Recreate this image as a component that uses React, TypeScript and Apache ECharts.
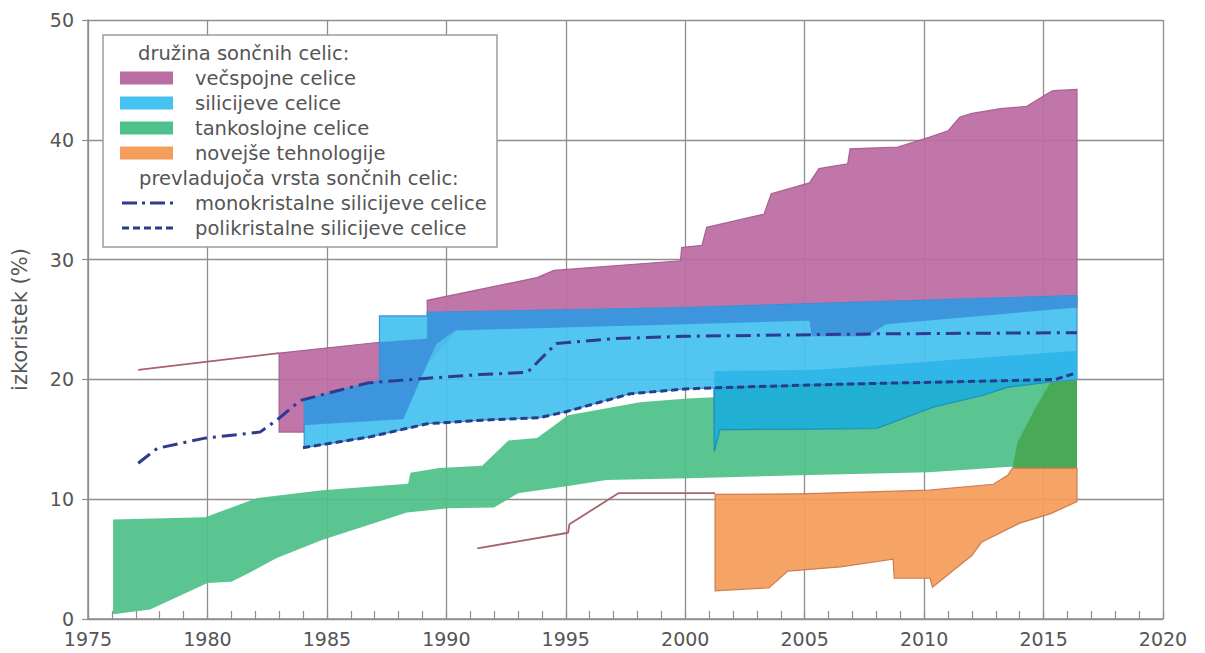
import React, { useEffect, useRef } from 'react';
import * as echarts from 'echarts';

// ---- axis ranges ----
const yearMin = 1975;
const yearMax = 2020;
const effMin = 0;
const effMax = 50;

// ---- cell family bands: [year, efficiency %] ----
const greenTop = [[1976.05, 8.3], [1979.9, 8.5], [1982.1, 10.1], [1984.8, 10.75], [1988.4, 11.3], [1988.5, 12.2], [1989.7, 12.6], [1991.5, 12.8], [1992.6, 14.9], [1993.8, 15.1], [1995.1, 17.0], [1998.1, 18.1], [2000.1, 18.4], [2001.2, 18.5], [2001.22, 19.3], [2006.5, 19.6], [2013.5, 19.9], [2016.4, 20.0]];
const greenBottom = [[1976.05, 0.4], [1977.6, 0.8], [1980.0, 3.0], [1981.0, 3.1], [1981.7, 3.8], [1982.9, 5.1], [1984.8, 6.6], [1988.35, 8.9], [1990.1, 9.25], [1992.0, 9.3], [1993.0, 10.5], [1995.1, 11.1], [1996.7, 11.6], [2000.1, 11.75], [2004.8, 12.0], [2010.2, 12.25], [2013.6, 12.7], [2016.4, 12.6]];

const darkGreenTop = [[2013.7, 12.6], [2013.9, 14.7], [2014.6, 17.4], [2015.3, 19.8], [2016.4, 20.0]];
const darkGreenBottom = [[2013.7, 12.6], [2016.4, 12.6]];

const orangeTop = [[2001.25, 10.4], [2004.8, 10.45], [2010.2, 10.75], [2012.9, 11.25], [2013.5, 12.0], [2013.7, 12.6], [2016.4, 12.6]];
const orangeBottom = [[2001.25, 2.35], [2003.5, 2.6], [2004.3, 4.0], [2006.5, 4.35], [2008.7, 5.0], [2008.75, 3.4], [2010.25, 3.4], [2010.35, 2.65], [2012.0, 5.3], [2012.4, 6.4], [2014.0, 8.0], [2015.3, 8.8], [2016.4, 9.8]];

const purpleTop = [[1983.0, 22.2], [1987.2, 23.1], [1989.2, 23.4], [1989.2, 26.6], [1993.8, 28.5], [1994.5, 29.1], [1999.8, 29.9], [1999.85, 31.0], [2000.7, 31.2], [2000.9, 32.7], [2003.3, 33.8], [2003.6, 35.5], [2005.2, 36.4], [2005.6, 37.6], [2006.8, 38.0], [2006.9, 39.25], [2008.9, 39.4], [2010.2, 40.2], [2011.0, 40.75], [2011.5, 41.9], [2012.0, 42.2], [2013.2, 42.6], [2014.3, 42.8], [2015.2, 43.9], [2015.4, 44.1], [2016.4, 44.2]];
const purpleBottom = [[1983.0, 15.6], [1984.05, 15.6], [1984.05, 16.2], [1988.2, 16.7], [1989.2, 21.3], [1990.4, 24.1], [2016.4, 26.0]];

const blueTop = [[1984.05, 18.25], [1986.7, 19.7], [1987.2, 19.85], [1987.2, 25.3], [1989.2, 25.3], [1989.2, 25.6], [2000.0, 26.0], [2016.4, 27.0]];
const blueBottom = [[1984.05, 14.3], [1986.8, 15.2], [1989.2, 16.3], [1991.5, 16.6], [1993.9, 16.8], [1995.0, 17.3], [1997.7, 18.8], [2000.0, 19.2], [2001.2, 19.3], [2001.22, 14.0], [2001.45, 15.8], [2008.0, 15.9], [2010.4, 17.7], [2012.5, 18.7], [2013.5, 19.35], [2015.3, 19.8], [2016.4, 20.0]];

// silicon band where it lies over the multijunction band
const overlapTop = [[1984.05, 18.25], [1986.7, 19.7], [1987.2, 19.85], [1987.2, 23.1], [1989.2, 23.4], [1989.2, 25.6], [2000.0, 26.0], [2016.4, 27.0]];
const overlapBottom = [[1984.05, 16.2], [1988.2, 16.7], [1989.2, 21.3], [1989.6, 23.0], [1990.4, 24.1], [2000.0, 24.6], [2005.2, 24.9], [2005.3, 23.6], [2007.6, 23.6], [2008.4, 24.6], [2016.4, 26.0]];

const cyanTop = [[2001.22, 20.7], [2005.6, 20.8], [2016.4, 22.4]];
const cyanBottom = [[2001.22, 19.3], [2006.5, 19.6], [2013.5, 19.9], [2016.4, 20.0]];

const tealTop = [[2001.22, 19.3], [2006.5, 19.6], [2013.5, 19.9], [2015.3, 19.95]];
const tealBottom = [[2001.22, 14.0], [2001.45, 15.8], [2008.0, 15.9], [2010.4, 17.7], [2012.5, 18.7], [2013.5, 19.35], [2015.3, 19.8]];

// ---- single lines ----
const earlyMultiLine = [[1977.1, 20.8], [1983.0, 22.2]];
const earlyNewTechLine = [[1991.3, 5.9], [1995.1, 7.2], [1995.15, 7.9], [1997.2, 10.5], [2001.25, 10.5]];
const monoLine = [[1977.1, 13.0], [1977.9, 14.25], [1979.9, 15.1], [1982.2, 15.6], [1982.9, 16.6], [1983.9, 18.25], [1986.7, 19.7], [1989.2, 20.1], [1991.4, 20.4], [1993.4, 20.6], [1994.6, 23.0], [1997.0, 23.4], [2000.0, 23.6], [2008.0, 23.8], [2016.4, 23.9]];
const polyLine = [[1984.0, 14.3], [1986.8, 15.2], [1989.2, 16.3], [1991.5, 16.6], [1993.9, 16.8], [1995.0, 17.3], [1997.7, 18.8], [2000.0, 19.2], [2001.2, 19.3], [2006.5, 19.6], [2013.5, 19.9], [2015.5, 20.0], [2016.3, 20.5]];

// ---- legend texts ----
const familyTitle = 'družina sončnih celic:';
const familyLabels = ['večspojne celice', 'silicijeve celice', 'tankoslojne celice', 'novejše tehnologije'];
const typeTitle = 'prevladujoča vrsta sončnih celic:';
const typeLabels = ['monokristalne silicijeve celice', 'polikristalne silicijeve celice'];
const yAxisTitle = 'izkoristek (%)';

const C = {
  purple: '#bb6ca3',
  purpleEdge: '#a35a8e',
  blue: '#45c2f0',
  blueOverlap: '#3c93db',
  cyan: '#2db5e8',
  teal: '#1eaed2',
  green: '#4dc189',
  darkGreen: '#47a852',
  orange: '#f59d5a',
  orangeEdge: '#c9774a',
  brown: '#a8626a',
  mono: '#2f3b8f',
  poly: '#243e8a',
  grid: '#8e8e8e',
  text: '#555555',
};
const familyColors = [C.purple, C.blue, C.green, C.orange];
const FONT = '"DejaVu Sans", sans-serif';

function band(top: number[][], bottom: number[][]) {
  return top.concat(bottom.slice().reverse());
}

function polygonSeries(pts: number[][], fill: string, stroke?: string) {
  return {
    type: 'custom',
    coordinateSystem: 'cartesian2d',
    silent: true,
    data: [pts[0]],
    renderItem: (_params: any, api: any) => ({
      type: 'polygon',
      shape: { points: pts.map((p) => api.coord(p)) },
      style: {
        fill,
        stroke: stroke || null,
        lineWidth: stroke ? 1.2 : 0,
        opacity: 0.93,
      },
    }),
  };
}

function lineSeries(data: number[][], color: string, width: number, type: any) {
  return {
    type: 'line',
    data,
    symbol: 'none',
    silent: true,
    lineStyle: { color, width, type },
  };
}

export default function App() {
  const ref = useRef<HTMLDivElement>(null);

  useEffect(() => {
    if (!ref.current) return;
    const chart = echarts.init(ref.current, null, { renderer: 'svg' });

    const legendRows = [53, 78, 103, 128, 153, 178, 203, 228];
    const graphic: any[] = [
      {
        type: 'rect',
        z: 100,
        shape: { x: 103, y: 35, width: 394, height: 212 },
        style: { fill: '#ffffff', stroke: '#9c9c9c', lineWidth: 1.5 },
      },
      {
        type: 'text',
        z: 101,
        x: 138,
        y: legendRows[0],
        style: { text: familyTitle, fill: C.text, fontSize: 19.5, fontFamily: FONT, verticalAlign: 'middle' },
      },
      {
        type: 'text',
        z: 101,
        x: 139,
        y: legendRows[5],
        style: { text: typeTitle, fill: C.text, fontSize: 19.5, fontFamily: FONT, verticalAlign: 'middle' },
      },
    ];
    familyLabels.forEach((label, i) => {
      const cy = legendRows[i + 1];
      graphic.push({
        type: 'rect',
        z: 101,
        shape: { x: 120, y: cy - 6.5, width: 53, height: 13 },
        style: { fill: familyColors[i] },
      });
      graphic.push({
        type: 'text',
        z: 101,
        x: 195,
        y: cy,
        style: { text: label, fill: C.text, fontSize: 19.5, fontFamily: FONT, verticalAlign: 'middle' },
      });
    });
    const sampleDash = [
      [15, 5, 3, 5],
      [7, 4],
    ];
    const sampleColor = [C.mono, C.poly];
    typeLabels.forEach((label, i) => {
      const cy = legendRows[i + 6];
      graphic.push({
        type: 'line',
        z: 101,
        shape: { x1: 122, y1: cy, x2: 173, y2: cy },
        style: { stroke: sampleColor[i], lineWidth: 3, lineDash: sampleDash[i] },
      });
      graphic.push({
        type: 'text',
        z: 101,
        x: 195,
        y: cy,
        style: { text: label, fill: C.text, fontSize: 19.5, fontFamily: FONT, verticalAlign: 'middle' },
      });
    });

    const axisLine = { show: true, lineStyle: { color: C.grid, width: 1.5 } };
    const splitLine = { show: true, lineStyle: { color: C.grid, width: 1.3 } };

    chart.setOption({
      animation: false,
      backgroundColor: '#ffffff',
      grid: { left: 88, right: 42, top: 20, bottom: 34 },
      xAxis: {
        type: 'value',
        min: yearMin,
        max: yearMax,
        interval: 5,
        axisLine,
        axisTick: { show: true, inside: true, length: 8, lineStyle: { color: C.grid, width: 1.2 } },
        minorTick: { show: true, splitNumber: 5, length: 8, lineStyle: { color: C.grid, width: 1.2 } },
        axisLabel: {
          color: C.text,
          fontSize: 19,
          fontFamily: FONT,
          margin: 10,
          formatter: (v: number) => String(v),
        },
        splitLine,
      },
      yAxis: {
        type: 'value',
        min: effMin,
        max: effMax,
        interval: 10,
        name: yAxisTitle,
        nameLocation: 'middle',
        nameRotate: 90,
        nameGap: 58,
        nameTextStyle: { color: C.text, fontSize: 21, fontFamily: FONT },
        axisLine,
        axisTick: { show: true, length: 6, lineStyle: { color: C.grid, width: 1.2 } },
        axisLabel: {
          color: C.text,
          fontSize: 19,
          fontFamily: FONT,
          margin: 14,
          padding: [0, 0, 6, 0],
        },
        splitLine,
      },
      graphic,
      series: [
        polygonSeries(band(greenTop, greenBottom), C.green),
        polygonSeries(band(darkGreenTop, darkGreenBottom), C.darkGreen),
        polygonSeries(band(orangeTop, orangeBottom), C.orange, C.orangeEdge),
        polygonSeries(band(purpleTop, purpleBottom), C.purple, C.purpleEdge),
        polygonSeries(band(blueTop, blueBottom), C.blue, '#3a8ad6'),
        polygonSeries(band(overlapTop, overlapBottom), C.blueOverlap),
        polygonSeries(band(cyanTop, cyanBottom), C.cyan),
        polygonSeries(band(tealTop, tealBottom), C.teal, '#1a93b8'),
        lineSeries(earlyMultiLine, C.brown, 1.8, 'solid'),
        lineSeries(earlyNewTechLine, C.brown, 1.8, 'solid'),
        lineSeries(monoLine, C.mono, 3, [15, 6, 3, 6]),
        lineSeries(polyLine, C.poly, 3, [7, 4]),
      ],
    });

    return () => chart.dispose();
  }, []);

  return (
    <div
      ref={ref}
      style={{ position: 'fixed', left: 0, top: 0, width: 1205, height: 653, background: '#ffffff' }}
    />
  );
}
